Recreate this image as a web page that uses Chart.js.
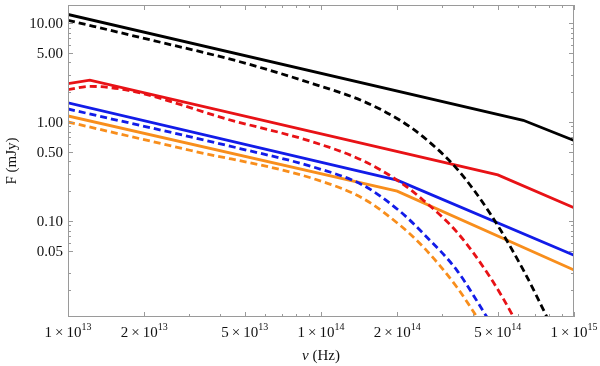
<!DOCTYPE html>
<html>
<head>
<meta charset="utf-8">
<script src="https://cdn.jsdelivr.net/npm/chart.js@4.4.1/dist/chart.umd.min.js"></script>
<style>
  html, body { margin: 0; padding: 0; background: #fff; }
</style>
</head>
<body>
<canvas id="sed" width="600" height="366"></canvas>
<script>
// frequencies (Hz) and fluxes (mJy)
const nuBlack = [1e13, 6.3e14, 1e15];
const fBlack = [12.2, 1.04, 0.65];
const nuRed = [1e13, 1.22e13, 5e14, 1e15];
const fRed = [2.44, 2.64, 0.292, 0.136];
const nuBlue = [1e13, 2e14, 1e15];
const fBlue = [1.56, 0.258, 0.045];
const nuOrange = [1e13, 2e14, 1e15];
const fOrange = [1.15, 0.20, 0.032];

const nuBlackCut = [1e13, 2e13, 4.78e13, 9.31e13, 1.469e14, 2.052e14, 2.537e14, 3.44e14, 4.66e14, 6.31e14, 7.81e14, 8.28e14];
const fBlackCut = [10.65, 6.99, 4.06, 2.43, 1.62, 1.04, 0.706, 0.338, 0.119, 0.0318, 0.01075, 0.0079];
const nuRedCut = [1e13, 1.22e13, 4.78e13, 9.31e13, 1.469e14, 2.052e14, 2.537e14, 3.44e14, 4.66e14, 5.76e14, 6.1e14];
const fRedCut = [2.12, 2.29, 0.986, 0.627, 0.405, 0.247, 0.162, 0.0775, 0.027, 0.01075, 0.008];
const nuBlueCut = [1e13, 4.78e13, 9.31e13, 1.469e14, 2.052e14, 2.537e14, 3.44e14, 4.52e14, 4.88e14];
const fBlueCut = [1.353, 0.539, 0.351, 0.229, 0.125, 0.0746, 0.0318, 0.01075, 0.0079];
const nuOrangeCut = [1e13, 3.03e13, 9.31e13, 1.469e14, 2.052e14, 2.537e14, 3.44e14, 4.13e14, 4.47e14];
const fOrangeCut = [1.0, 0.518, 0.268, 0.168, 0.0905, 0.0546, 0.0215, 0.01075, 0.0079];

// axis ticks
const xMajor = [1e13, 2e13, 5e13, 1e14, 2e14, 5e14, 1e15];
const xMantissa = ['1', '2', '5', '1', '2', '5', '1'];
const xExponent = ['13', '13', '13', '14', '14', '14', '15'];
const xMinor = [3e13, 4e13, 6e13, 7e13, 8e13, 9e13, 3e14, 4e14, 6e14, 7e14, 8e14, 9e14];
const yMajor = [0.05, 0.1, 0.5, 1, 5, 10];
const yLabels = ['0.05', '0.10', '0.50', '1.00', '5.00', '10.00'];
const yMinor = [0.02, 0.03, 0.06, 0.07, 0.08, 0.09, 0.2, 0.3, 0.4, 0.6, 0.7, 0.8, 0.9, 2, 3, 4, 6, 7, 8, 9];

const BLACK = '#000000';
const RED = 'rgb(232,18,22)';
const BLUE = 'rgb(18,28,232)';
const ORANGE = 'rgb(248,142,28)';
const SERIF = "'Liberation Serif', 'DejaVu Serif', serif";

function pts(xs, ys) {
  return xs.map((v, i) => ({ x: v, y: ys[i] }));
}

function series(xs, ys, color, dashed) {
  return {
    data: pts(xs, ys),
    borderColor: color,
    borderWidth: 2.8,
    borderDash: dashed ? [7, 4] : [],
    pointRadius: 0,
    showLine: true,
    fill: false,
    clip: 0,
    tension: 0,
    cubicInterpolationMode: dashed ? 'monotone' : 'default',
  };
}

//frame, inward ticks and labels
const framePlugin = {
  id: 'frame',
  afterDatasetsDraw(chart) {
    const { ctx, chartArea: a, scales: { x, y } } = chart;
    ctx.save();
    ctx.strokeStyle = '#9a9a9a';
    ctx.lineWidth = 1;
    ctx.strokeRect(Math.round(a.left) + 0.5, Math.round(a.top) + 0.5,
      Math.round(a.right - a.left) - 1, Math.round(a.bottom - a.top) - 1);

    ctx.beginPath();
    const xTick = (v, len) => {
      const p = Math.round(x.getPixelForValue(v)) + 0.5;
      ctx.moveTo(p, a.bottom); ctx.lineTo(p, a.bottom - len);
      ctx.moveTo(p, a.top); ctx.lineTo(p, a.top + len);
    };
    const yTick = (v, len) => {
      const p = Math.round(y.getPixelForValue(v)) + 0.5;
      ctx.moveTo(a.left, p); ctx.lineTo(a.left + len, p);
      ctx.moveTo(a.right, p); ctx.lineTo(a.right - len, p);
    };
    xMajor.forEach(v => xTick(v, 5));
    xMinor.forEach(v => xTick(v, 3));
    yMajor.forEach(v => yTick(v, 5));
    yMinor.forEach(v => yTick(v, 3));
    ctx.stroke();

    ctx.fillStyle = '#111';
    ctx.font = '15px ' + SERIF;
    ctx.textAlign = 'right';
    ctx.textBaseline = 'middle';
    yMajor.forEach((v, i) => {
      ctx.fillText(yLabels[i], a.left - 5, y.getPixelForValue(v) + 1);
    });

    ctx.textBaseline = 'alphabetic';
    ctx.textAlign = 'left';
    xMajor.forEach((v, i) => {
      const base = xMantissa[i] + '\u2009\u00d7\u200910';
      ctx.font = '15px ' + SERIF;
      const w1 = ctx.measureText(base).width;
      ctx.font = '10px ' + SERIF;
      const w2 = ctx.measureText(xExponent[i]).width;
      const x0 = x.getPixelForValue(v) - (w1 + w2) / 2;
      ctx.font = '15px ' + SERIF;
      ctx.fillText(base, x0, a.bottom + 20);
      ctx.font = '10px ' + SERIF;
      ctx.fillText(xExponent[i], x0 + w1, a.bottom + 13);
    });

    // axis titles
    ctx.font = 'italic 15px ' + SERIF;
    const nu = '\u03bd';
    const wNu = ctx.measureText(nu).width;
    ctx.font = '15px ' + SERIF;
    const rest = ' (Hz)';
    const wRest = ctx.measureText(rest).width;
    const cx = (a.left + a.right) / 2 - (wNu + wRest) / 2;
    ctx.font = 'italic 15px ' + SERIF;
    ctx.fillText(nu, cx, a.bottom + 43);
    ctx.font = '15px ' + SERIF;
    ctx.fillText(rest, cx + wNu, a.bottom + 43);

    ctx.translate(12, (a.top + a.bottom) / 2);
    ctx.rotate(-Math.PI / 2);
    ctx.textAlign = 'center';
    ctx.textBaseline = 'middle';
    ctx.fillText('F (mJy)', 0, 0);
    ctx.restore();
  }
};

new Chart(document.getElementById('sed'), {
  type: 'scatter',
  data: {
    datasets: [
      series(nuBlack, fBlack, BLACK, false),
      series(nuBlackCut, fBlackCut, BLACK, true),
      series(nuRed, fRed, RED, false),
      series(nuRedCut, fRedCut, RED, true),
      series(nuBlue, fBlue, BLUE, false),
      series(nuBlueCut, fBlueCut, BLUE, true),
      series(nuOrange, fOrange, ORANGE, false),
      series(nuOrangeCut, fOrangeCut, ORANGE, true),
    ]
  },
  options: {
    responsive: false,
    animation: false,
    layout: { padding: { left: 68, right: 26, top: 5, bottom: 49 } },
    plugins: { legend: { display: false }, tooltip: { enabled: false } },
    scales: {
      x: { type: 'logarithmic', min: 1e13, max: 1e15, display: false },
      y: { type: 'logarithmic', min: 0.0107, max: 15.2, display: false }
    }
  },
  plugins: [framePlugin]
});
</script>
</body>
</html>
